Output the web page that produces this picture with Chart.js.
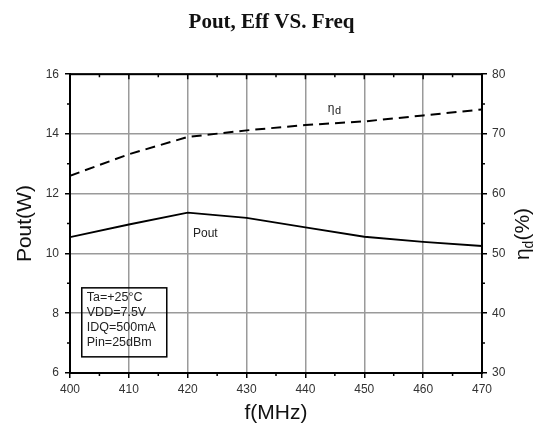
<!DOCTYPE html>
<html>
<head>
<meta charset="utf-8">
<script src="https://cdn.jsdelivr.net/npm/chart.js@4.4.0/dist/chart.umd.min.js"></script>
<style>
  body { margin: 0; background: #fff; }
</style>
</head>
<body>
<canvas id="chart" width="543" height="435"></canvas>
<script>
const freqs = [400, 410, 420, 430, 440, 450, 460, 470]; // MHz
const poutData = [10.55, 10.97, 11.37, 11.19, 10.87, 10.56, 10.39, 10.25]; // W
const effData = [63.0, 66.6, 69.5, 70.6, 71.5, 72.1, 73.1, 74.1]; // %
const conditions = ["Ta=+25\u00B0C", "VDD=7.5V", "IDQ=500mA", "Pin=25dBm"];

const sans = "'Liberation Sans', Arial, sans-serif";

// frame, minor ticks, labels inside the plot and the right axis title
const extras = {
  id: 'extras',
  afterDraw(chart) {
    const ctx = chart.ctx;
    const a = chart.chartArea;
    const x = chart.scales.x, y = chart.scales.y, y1 = chart.scales.y1;
    ctx.save();
    ctx.strokeStyle = '#000';

    // minor ticks
    ctx.lineWidth = 1.5;
    ctx.beginPath();
    for (let v = 405; v < 470; v += 10) {
      const px = x.getPixelForValue(v);
      ctx.moveTo(px, a.bottom); ctx.lineTo(px, a.bottom + 3);
      ctx.moveTo(px, a.top); ctx.lineTo(px, a.top + 3);
    }
    for (let v = 410; v < 470; v += 10) {
      const px = x.getPixelForValue(v);
      ctx.moveTo(px, a.top); ctx.lineTo(px, a.top + 5);
    }
    for (let v = 7; v < 16; v += 2) {
      const py = y.getPixelForValue(v);
      ctx.moveTo(a.left - 3, py); ctx.lineTo(a.left, py);
    }
    for (let v = 35; v < 80; v += 10) {
      const py = y1.getPixelForValue(v);
      ctx.moveTo(a.right, py); ctx.lineTo(a.right + 3, py);
    }
    ctx.stroke();

    // frame
    ctx.lineWidth = 2;
    ctx.strokeRect(a.left, a.top, a.right - a.left, a.bottom - a.top);

    // curve labels
    ctx.fillStyle = '#222';
    ctx.textBaseline = 'middle';
    ctx.textAlign = 'left';
    ctx.font = '12px ' + sans;
    ctx.fillText('Pout', x.getPixelForValue(420.9), y.getPixelForValue(10.65));
    const ex = x.getPixelForValue(443.8), ey = y1.getPixelForValue(74.3);
    ctx.font = '12px ' + sans;
    ctx.fillText('\u03B7', ex, ey);
    ctx.font = '11px ' + sans;
    ctx.fillText('d', ex + ctx.measureText('\u03B7').width + 1, ey + 3);

    // conditions box
    const bx = x.getPixelForValue(402), by = y.getPixelForValue(8.85);
    ctx.lineWidth = 1.5;
    ctx.strokeRect(bx, by, 85, 69);
    ctx.font = '12.5px ' + sans;
    conditions.forEach((t, i) => ctx.fillText(t, bx + 5, by + 10 + i * 15));

    // right axis title, read bottom to top
    ctx.translate(522, 234);
    ctx.rotate(-Math.PI / 2);
    ctx.fillStyle = '#111';
    ctx.textBaseline = 'alphabetic';
    ctx.font = '21px ' + sans;
    const w1 = ctx.measureText('\u03B7').width;
    const w3 = ctx.measureText('(%)').width;
    ctx.font = '14px ' + sans;
    const w2 = ctx.measureText('d').width;
    let sx = -(w1 + w2 + w3) / 2;
    ctx.font = '21px ' + sans;
    ctx.fillText('\u03B7', sx, 7);
    ctx.font = '14px ' + sans;
    ctx.fillText('d', sx + w1, 11);
    ctx.font = '21px ' + sans;
    ctx.fillText('(%)', sx + w1 + w2, 7);
    ctx.restore();
  }
};

const gridOpts = {
  color: '#9a9a9a',
  lineWidth: 1.5,
  tickColor: '#000',
  tickLength: 5,
  tickWidth: 1.5
};

new Chart(document.getElementById('chart'), {
  type: 'line',
  data: {
    labels: freqs,
    datasets: [
      {
        label: 'Pout',
        data: poutData,
        yAxisID: 'y',
        borderColor: '#000',
        borderWidth: 1.8,
        pointRadius: 0,
        tension: 0,
        fill: false
      },
      {
        label: 'Eff',
        data: effData,
        yAxisID: 'y1',
        borderColor: '#000',
        borderWidth: 2,
        borderDash: [10, 6],
        pointRadius: 0,
        tension: 0,
        fill: false
      }
    ]
  },
  options: {
    responsive: false,
    animation: false,
    layout: { padding: 0 },
    scales: {
      x: {
        type: 'linear',
        min: 400,
        max: 470,
        afterFit(scale) { scale.height = 62; },
        ticks: { stepSize: 10, padding: 4, color: '#333', font: { size: 12, family: sans } },
        grid: gridOpts,
        border: { display: true, color: '#000', width: 2 },
        title: { display: true, text: 'f(MHz)', color: '#111', padding: { top: 0, bottom: 9 }, font: { size: 21, family: sans } }
      },
      y: {
        position: 'left',
        min: 6,
        max: 16,
        afterFit(scale) { scale.width = 70; },
        ticks: { stepSize: 2, padding: 6, color: '#333', font: { size: 12, family: sans } },
        grid: gridOpts,
        border: { display: true, color: '#000', width: 2 },
        title: { display: true, text: 'Pout(W)', color: '#111', padding: { top: 13, bottom: 0 }, font: { size: 21, family: sans } }
      },
      y1: {
        position: 'right',
        min: 30,
        max: 80,
        afterFit(scale) { scale.width = 61; },
        ticks: { stepSize: 10, padding: 5, color: '#333', font: { size: 12, family: sans } },
        grid: Object.assign({}, gridOpts, { drawOnChartArea: false }),
        border: { display: true, color: '#000', width: 2 }
      }
    },
    plugins: {
      legend: { display: false },
      tooltip: { enabled: false },
      title: {
        display: true,
        text: 'Pout, Eff VS. Freq',
        color: '#111',
        font: { size: 21, weight: 'bold', family: "'Liberation Serif', 'Times New Roman', serif" },
        padding: { top: 10, bottom: 39 }
      }
    }
  },
  plugins: [extras]
});
</script>
</body>
</html>
